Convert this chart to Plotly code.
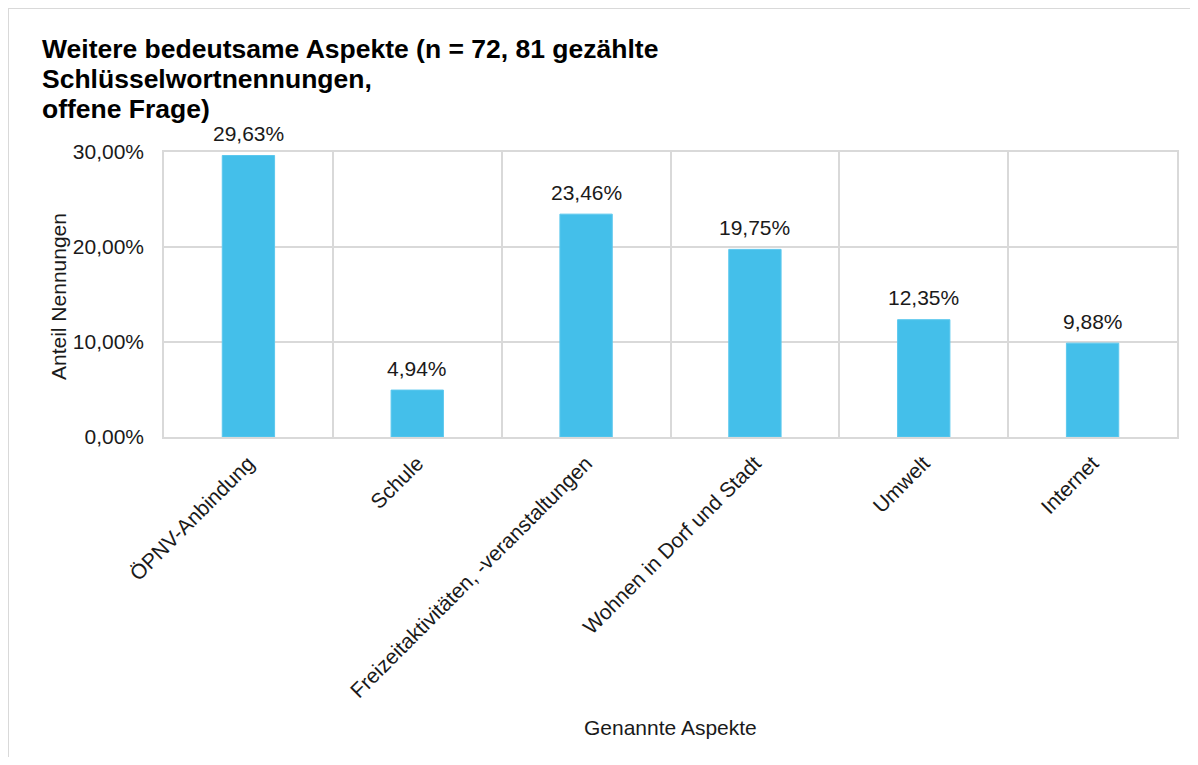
import plotly.graph_objects as go

# Daten
aspekte = ["ÖPNV-Anbindung", "Schule", "Freizeitaktivitäten, -veranstaltungen",
           "Wohnen in Dorf und Stadt", "Umwelt", "Internet"]
anteile = [29.63, 4.94, 23.46, 19.75, 12.35, 9.88]
y_ticks = [0, 10, 20, 30]
titel_zeilen = ["Weitere bedeutsame Aspekte (n = 72, 81 gezählte",
                "Schlüsselwortnennungen,",
                "offene Frage)"]


def de_prozent(v):
    return f"{v:.2f}%".replace('.', ',')


FARBE_BALKEN = '#44BFEA'
FARBE_GRID = '#D9D9D9'
SCHRIFT = 'Liberation Sans, Arial, sans-serif'

# Seite hat 8px Rand, daher Figur etwas kleiner und alles um 8px verschoben
OFF = 8
W, H = 1198 - 2 * OFF, 765 - 2 * OFF
M_L, M_T = 164 - OFF, 152 - OFF
pw, ph = 1013, 285
M_R = W - M_L - pw
M_B = H - M_T - ph


def px_x(px):
    return (px - OFF - M_L) / pw


def px_y(py):
    return (M_T + ph - (py - OFF)) / ph


fig = go.Figure()

fig.add_trace(go.Bar(
    x=aspekte,
    y=anteile,
    marker=dict(color=FARBE_BALKEN, line=dict(color='#5CC8EE', width=1)),
    width=0.31,
    hoverinfo='x+y',
))

# Datenbeschriftungen etwas ueber den Balken
for a, v in zip(aspekte, anteile):
    fig.add_annotation(x=a, y=v, text=de_prozent(v), showarrow=False,
                       yanchor='middle', yshift=22,
                       font=dict(size=21, color='#1a1a1a', family=SCHRIFT))

fig.update_layout(
    width=W, height=H,
    margin=dict(l=M_L, r=M_R, t=M_T, b=M_B),
    plot_bgcolor='white',
    paper_bgcolor='white',
    showlegend=False,
    font=dict(family=SCHRIFT, size=21, color='#1a1a1a'),
)

fig.update_xaxes(
    tickangle=-45,
    tickson='boundaries',
    showgrid=True, gridcolor=FARBE_GRID, gridwidth=1.5,
    showline=True, linecolor=FARBE_GRID, linewidth=1.5, mirror=True,
    ticks='', tickfont=dict(size=21),
    ticklabelstandoff=4,
)

fig.update_yaxes(
    range=[0, 30],
    tickvals=y_ticks,
    ticktext=[de_prozent(v) for v in y_ticks],
    showgrid=True, gridcolor=FARBE_GRID, gridwidth=1.5,
    showline=True, linecolor=FARBE_GRID, linewidth=1.5, mirror=True,
    zeroline=False,
    ticks='', tickfont=dict(size=21),
    ticklabelstandoff=14,
)

# Achsentitel
fig.add_annotation(text='Genannte Aspekte', xref='paper', yref='paper',
                   x=px_x(670), y=px_y(727), xanchor='center', yanchor='middle',
                   showarrow=False, font=dict(size=21))
fig.add_annotation(text='Anteil Nennungen', xref='paper', yref='paper',
                   x=px_x(58), y=px_y(297), xanchor='center', yanchor='middle',
                   textangle=-90, showarrow=False, font=dict(size=21))

# Titel, Zeile fuer Zeile (engerer Zeilenabstand)
for i, zeile in enumerate(titel_zeilen):
    fig.add_annotation(
        text=f'<b>{zeile}</b>',
        xref='paper', yref='paper',
        x=px_x(40), y=px_y(49 + 30 * i),
        xanchor='left', yanchor='middle', align='left',
        showarrow=False,
        font=dict(size=26.5, color='#000000', family=SCHRIFT),
    )

# Rahmen oben und links
fig.add_shape(type='line', xref='paper', yref='paper',
              x0=px_x(8), x1=px_x(1198),
              y0=px_y(8), y1=px_y(8),
              line=dict(color=FARBE_GRID, width=2))
fig.add_shape(type='line', xref='paper', yref='paper',
              x0=px_x(8), x1=px_x(8),
              y0=px_y(8), y1=px_y(765),
              line=dict(color=FARBE_GRID, width=2))

fig.write_html("out.html")
